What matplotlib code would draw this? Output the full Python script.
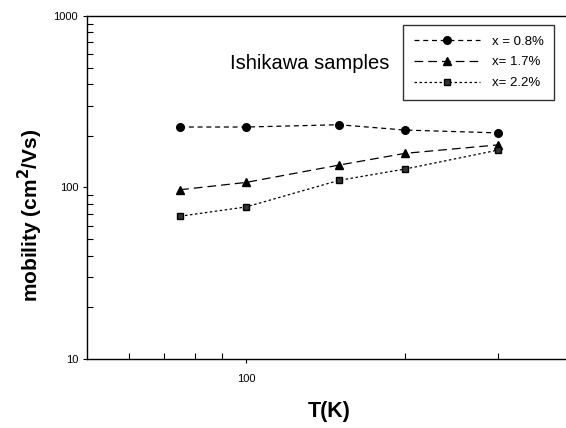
import matplotlib.pyplot as plt
from matplotlib.ticker import LogLocator, NullFormatter, FixedLocator, FixedFormatter

plt.rcParams['font.family'] = ['Liberation Sans', 'DejaVu Sans']

T = [75, 100, 150, 200, 300]
mob_08 = [225, 225, 232, 216, 208]
mob_17 = [97, 107, 135, 158, 177]
mob_22 = [68, 77, 110, 128, 165]
labels = ['x = 0.8%', 'x= 1.7%', 'x= 2.2%']

fig = plt.figure(figsize=(5.66, 4.28), dpi=100)
ax = fig.add_axes([0.154, 0.161, 0.856, 0.802])

ax.plot(T, mob_08, color='black', linestyle=(0, (4, 3)), lw=0.9,
        marker='o', ms=5.5, label=labels[0])
ax.plot(T, mob_17, color='black', linestyle=(0, (7, 4)), lw=0.9,
        marker='^', ms=5.5, label=labels[1])
ax.plot(T, mob_22, color='black', linestyle=(0, (2, 2)), lw=0.9,
        marker='s', ms=5, markerfacecolor='#333333', label=labels[2])

ax.set_xscale('log')
ax.set_yscale('log')
ax.set_xlim(50, 414)
ax.set_ylim(10, 1000)

ax.xaxis.set_major_locator(FixedLocator([100]))
ax.xaxis.set_major_formatter(FixedFormatter(['100']))
ax.xaxis.set_minor_locator(FixedLocator([60, 70, 80, 90, 200, 300]))
ax.xaxis.set_minor_formatter(NullFormatter())
ax.yaxis.set_major_locator(FixedLocator([10, 100, 1000]))
ax.yaxis.set_major_formatter(FixedFormatter(['10', '100', '1000']))
ax.yaxis.set_minor_locator(LogLocator(base=10, subs=range(2, 10)))
ax.yaxis.set_minor_formatter(NullFormatter())

ax.tick_params(which='major', direction='out', length=3, width=0.8, labelsize=8)
ax.tick_params(axis='x', which='major', pad=8)
ax.tick_params(which='minor', direction='in', length=4, width=0.8)
for s in ax.spines.values():
    s.set_linewidth(1.0)

ax.set_xlabel('T(K)', fontsize=15.5, fontweight='bold', labelpad=12)
ax.set_ylabel('mobility (cm$^\\mathbf{2}$/Vs)', fontsize=15, fontweight='bold',
              labelpad=6, y=0.42)

ax.text(0.295, 0.86, 'Ishikawa samples', transform=ax.transAxes, fontsize=14.5,
        ha='left', va='center')

ax.legend(loc='upper right', bbox_to_anchor=(0.964, 0.974), fontsize=9.5,
          frameon=True, fancybox=False, edgecolor='black', handlelength=5,
          handletextpad=0.9, borderpad=0.8, labelspacing=0.65, borderaxespad=0)

fig.savefig('out.png', dpi=100)
